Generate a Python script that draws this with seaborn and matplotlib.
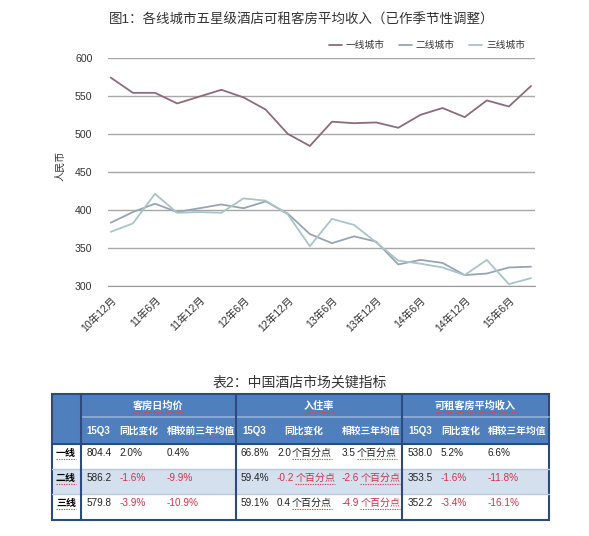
import matplotlib
matplotlib.use('Agg')
import matplotlib.pyplot as plt
import pandas as pd
import seaborn as sns

# quarterly RevPAR of five-star hotels, seasonally adjusted
quarters = ['10年12月', '11年3月', '11年6月', '11年9月', '11年12月', '12年3月', '12年6月',
            '12年9月', '12年12月', '13年3月', '13年6月', '13年9月', '13年12月', '14年3月',
            '14年6月', '14年9月', '14年12月', '15年3月', '15年6月', '15年9月']
tier1 = [574, 554, 554, 540, 549, 558, 548, 532, 500, 484,
         516, 514, 515, 508, 525, 534, 522, 544, 536, 563]
tier2 = [383, 397, 408, 397, 402, 407, 402, 411, 395, 368,
         356, 365, 358, 328, 334, 330, 314, 316, 324, 325]
tier3 = [371, 382, 421, 396, 397, 396, 415, 412, 394, 352,
         388, 380, 357, 333, 329, 324, 314, 334, 302, 310]
series_names = ['一线城市', '二线城市', '三线城市']

# table 2
tiers = ['一线', '二线', '三线']
groups = ['客房日均价', '入住率', '可租客房平均收入']
subheads = ['15Q3', '同比变化', '相较前三年均值',
            '15Q3', '同比变化', '相较三年均值',
            '15Q3', '同比变化', '相较三年均值']
adr = [['804.4', '2.0%', '0.4%'], ['586.2', '-1.6%', '-9.9%'], ['579.8', '-3.9%', '-10.9%']]
occ = [['66.8%', '2.0', '3.5'], ['59.4%', '-0.2', '-2.6'], ['59.1%', '0.4', '-4.9']]
occ_unit = '个百分点'
revpar = [['538.0', '5.2%', '6.6%'], ['353.5', '-1.6%', '-11.8%'], ['352.2', '-3.4%', '-16.1%']]

sns.set_style('white')
plt.rcParams['font.family'] = ['Liberation Sans', 'Noto Sans CJK SC', 'DejaVu Sans']

df = pd.DataFrame({'idx': list(range(len(quarters))) * 3,
                   'value': tier1 + tier2 + tier3,
                   'tier': [n for n in series_names for _ in quarters]})

W, H = 589, 536
fig = plt.figure(figsize=(W / 100, H / 100), dpi=100)
ax = fig.add_axes([107.7 / W, 1 - 285.7 / H, (535 - 107.7) / W, (285.7 - 57.9) / H])

palette = ['#8d6b7c', '#98a4b3', '#a9c4c6']
sns.lineplot(data=df, x='idx', y='value', hue='tier', palette=palette, linewidth=1.3, ax=ax,
             legend=False)

ax.set_ylim(300, 600)
ax.set_xlim(-0.14, 19.18)
ax.set_yticks(range(300, 601, 50))
ax.set_xticks(range(len(quarters)))
ax.set_xticklabels([q if i % 2 == 0 else '' for i, q in enumerate(quarters)],
                   rotation=45, ha='right', rotation_mode='anchor')
ax.tick_params(axis='x', direction='inout', length=7, width=1, color='#9a9a9a',
               labelsize=7.6, labelcolor='#333333', pad=3)
ax.tick_params(axis='y', length=0, labelsize=7.6, labelcolor='#333333', pad=11)
ax.grid(axis='y', color='#a8a8a8', linewidth=1)
ax.set_axisbelow(True)
for s in ['top', 'right', 'left']:
    ax.spines[s].set_visible(False)
ax.spines['bottom'].set_color('#9a9a9a')
ax.set_xlabel('')
ax.set_ylabel('')

fig.text(60 / W, 1 - 166 / H, '人民币', rotation=90, ha='center', va='center',
         fontsize=7.3, color='#333333')
fig.text(302 / W, 1 - 20 / H, '图1：各线城市五星级酒店可租客房平均收入（已作季节性调整）',
         ha='center', va='center', fontsize=9.7, color='#333333')

handles = [plt.Line2D([], [], color=c, linewidth=1.3) for c in palette]
fig.legend(handles, series_names, loc='center', bbox_to_anchor=(427 / W, 1 - 45 / H),
           ncol=3, frameon=False, fontsize=7, handlelength=1.3, handletextpad=0.4,
           columnspacing=1.5, labelcolor='#333333')

# ---- table drawn on a pixel-coordinate overlay
tax = fig.add_axes([0, 0, 1, 1])
tax.set_xlim(0, W)
tax.set_ylim(H, 0)
tax.axis('off')

navy = '#2c4b7c'
head_blue = '#4f80bd'
red = '#c8364a'
left, right, top, bottom = 51.7, 549, 394, 520
hdr_mid, hdr_bot = 417.3, 444.3
row_lines = [469.3, 494]
vlines = [80.7, 235.7, 402]
group_centers = [158, 319, 475.5]
col_x = [86.7, 119.3, 166.7, 240.7, 277, 342, 408, 441, 488]
sub_x = [86.7, 119.3, 166.7, 242.5, 284, 342, 408, 441, 488]
row_y = [452.7, 477.7, 502.7]

tax.text(300, 383, '表2：中国酒店市场关键指标', ha='center', va='center', fontsize=10,
         color='#333333')
tax.add_patch(plt.Rectangle((left, top), right - left, hdr_bot - top, color=head_blue, lw=0))
tax.add_patch(plt.Rectangle((left, row_lines[0]), right - left, row_lines[1] - row_lines[0],
                            color='#d5e0ef', lw=0))
tax.plot([vlines[0], right], [hdr_mid, hdr_mid], color='#8fb0da', lw=1.2)
for y in row_lines:
    tax.plot([left, right], [y, y], color='#b9c9dd', lw=1)
for x in vlines:
    tax.plot([x, x], [top, bottom], color=navy, lw=1.5)
tax.plot([left, right], [hdr_bot, hdr_bot], color=navy, lw=1.5)
tax.add_patch(plt.Rectangle((left, top), right - left, bottom - top, fill=False,
                            edgecolor=navy, lw=1.5))

squiggle = []   # texts that get the red spell-check underline
for g, cx in zip(groups, group_centers):
    squiggle.append(tax.text(cx, 405.5, g, ha='center', va='center', fontsize=7.3,
                             color='white', fontweight='bold'))
for s, x in zip(subheads, sub_x):
    t = tax.text(x, 431, s, ha='left', va='center', fontsize=7, color='white',
                 fontweight='bold')
    if s != '15Q3':
        squiggle.append(t)

fig.canvas.draw()
rend = fig.canvas.get_renderer()
inv = tax.transData.inverted()


def extent(t):
    bb = t.get_window_extent(rend)
    (x0, y0), (x1, y1) = inv.transform([(bb.x0, bb.y0), (bb.x1, bb.y1)])
    return x0, x1, y0


for r, (t, ry) in enumerate(zip(tiers, row_y)):
    squiggle.append(tax.text(66, ry, t, ha='center', va='center', fontsize=7.2,
                             color='black', fontweight='bold'))
    cells = adr[r] + occ[r] + revpar[r]
    for c, (v, x) in enumerate(zip(cells, col_x)):
        col = red if v.startswith('-') else '#222222'
        txt = tax.text(x, ry, v, ha='left', va='center', fontsize=7.2, color=col)
        if c in (4, 5):
            x1 = extent(txt)[1]
            squiggle.append(tax.text(x1 + 1, ry, occ_unit, ha='left', va='center',
                                     fontsize=7.2, color=col))

for t in squiggle:
    x0, x1, yb = extent(t)
    tax.plot([x0, x1], [yb + 1.2, yb + 1.2], color='#d2475a', lw=0.8, ls=(0, (1.2, 1)))

fig.savefig('out.png', dpi=100)
